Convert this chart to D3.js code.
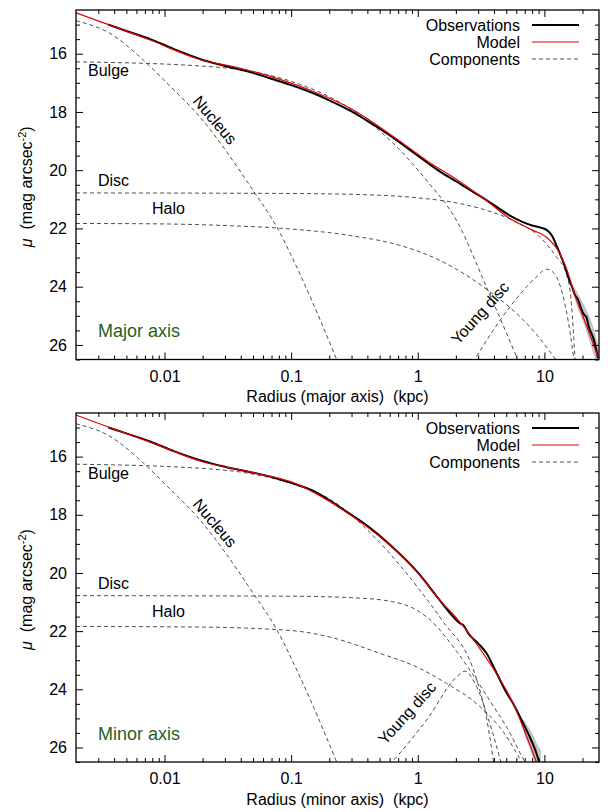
<!DOCTYPE html>
<html>
<head>
<meta charset="utf-8">
<script src="https://cdn.jsdelivr.net/npm/d3@7"></script>
<style>
  body { margin: 0; background: #fff; }
  svg text { font-family: "Liberation Sans", Arial, Helvetica, sans-serif; fill: #000; white-space: pre; }
</style>
</head>
<body>
<svg id="chart" width="608" height="812"></svg>
<script>
// ---------- axis ticks ----------
const xTickValues = [0.01, 0.1, 1, 10];
const xTickLabels = ["0.01", "0.1", "1", "10"];
const yTickValues = [16, 18, 20, 22, 24, 26];
const yTickLabels = ["16", "18", "20", "22", "24", "26"];

// ---------- major axis profile: [radius kpc, mu] ----------
const majorObs = [
  [0.0036, 15.0], [0.005, 15.22], [0.0077, 15.5], [0.012, 15.85], [0.019, 16.18],
  [0.03, 16.42], [0.05, 16.66], [0.077, 16.92], [0.1, 17.08], [0.15, 17.36],
  [0.2, 17.6], [0.3, 17.98], [0.44, 18.42], [0.6, 18.8], [0.72, 19.05],
  [1.0, 19.5], [1.5, 20.05], [2.0, 20.38], [3.0, 20.85], [4.0, 21.2],
  [5.3, 21.55], [6.5, 21.75], [8.0, 21.9], [9.5, 21.98], [10.4, 22.05],
  [11.5, 22.25], [12.5, 22.6], [13.5, 22.95], [14.5, 23.3], [15.5, 23.7],
  [16.5, 24.0], [17.5, 24.3], [18.5, 24.45], [19.5, 24.75], [20.5, 24.95],
  [21.5, 25.05], [22.5, 25.4], [23.5, 25.6], [24.5, 25.8], [25.5, 26.1], [26.5, 26.45]
];
const majorBand = [
  [16.5, 23.95, 24.05], [18, 24.15, 24.65], [19.5, 24.45, 25.05], [21, 24.7, 25.4],
  [22.5, 25.0, 25.8], [24, 25.3, 26.2], [25.5, 25.7, 26.6], [27, 26.1, 27.0]
];
const majorModel = [
  [0.002, 14.6], [0.0037, 15.02], [0.0077, 15.53], [0.019, 16.2], [0.04, 16.5],
  [0.077, 16.85], [0.15, 17.3], [0.3, 17.9], [0.44, 18.35], [0.72, 19.0],
  [1.2, 19.7], [2.0, 20.3], [3.5, 21.05], [5.3, 21.65], [8.0, 22.05],
  [10.4, 22.3], [13.2, 22.85], [15.1, 23.43], [17.6, 24.35], [19.8, 24.92],
  [23.0, 25.67], [26.5, 26.41]
];
const majorNucleus = [
  [0.002, 14.87], [0.0037, 15.3], [0.0068, 16.22], [0.0104, 17.0], [0.019, 18.17],
  [0.05, 20.69], [0.077, 21.95], [0.12, 23.66], [0.234, 26.6]
];
const majorBulge = [
  [0.002, 16.28], [0.019, 16.42], [0.05, 16.62], [0.1, 16.95], [0.3, 17.92],
  [0.72, 19.3], [1.2, 20.4], [2.02, 21.72], [3.48, 24.0], [6.3, 26.6]
];
const majorDisc = [
  [0.002, 20.78], [0.1, 20.8], [0.5, 20.86], [1.0, 20.95], [2.0, 21.12],
  [3.5, 21.38], [5.63, 21.72], [9.18, 22.29], [12.44, 22.98], [14.93, 23.55],
  [16.35, 24.58], [17.5, 26.6]
];
const majorHalo = [
  [0.002, 21.83], [0.0077, 21.84], [0.03, 21.9], [0.1, 22.02], [0.3, 22.25],
  [0.72, 22.58], [1.5, 23.1], [3.28, 24.0], [8.13, 25.5], [12.8, 26.6]
];
const majorYoung = [
  [2.72, 26.6], [5.33, 24.7], [8.5, 23.7], [10.4, 23.4], [12.0, 23.55],
  [14.0, 24.3], [16.0, 25.6], [17.2, 26.6]
];

// ---------- minor axis profile: [radius kpc, mu] ----------
const minorObs = [
  [0.0036, 15.0], [0.005, 15.2], [0.0077, 15.48], [0.012, 15.82], [0.019, 16.12],
  [0.03, 16.35], [0.05, 16.55], [0.077, 16.75], [0.1, 16.9], [0.15, 17.18],
  [0.25, 17.78], [0.4, 18.38], [0.6, 19.02], [1.0, 19.98], [1.5, 20.95],
  [1.9, 21.5], [2.15, 21.73], [2.3, 21.8], [2.5, 22.07], [3.0, 22.42],
  [3.49, 22.76], [4.2, 23.45], [5.0, 24.1], [5.65, 24.48], [6.78, 25.16],
  [7.6, 25.6], [8.65, 26.2], [9.1, 26.5]
];
const minorBand = [
  [6.4, 24.95, 25.05], [7.0, 25.1, 25.6], [7.6, 25.35, 26.0], [8.2, 25.6, 26.4],
  [8.8, 25.9, 26.8], [9.4, 26.1, 27.0]
];
const minorModel = [
  [0.002, 14.57], [0.0037, 15.0], [0.0077, 15.5], [0.019, 16.15], [0.05, 16.55],
  [0.1, 16.87], [0.25, 17.8], [0.6, 19.04], [1.0, 20.0], [1.5, 20.95],
  [2.08, 21.61], [3.28, 22.76], [5.65, 24.48], [8.65, 26.5]
];
const minorNucleus = [
  [0.002, 14.87], [0.0037, 15.3], [0.0068, 16.22], [0.0104, 17.0], [0.019, 18.17],
  [0.05, 20.69], [0.077, 21.95], [0.12, 23.66], [0.234, 26.6]
];
const minorBulge = [
  [0.002, 16.26], [0.019, 16.4], [0.05, 16.6], [0.1, 16.92], [0.2, 17.45],
  [0.5, 18.95], [1.0, 20.5], [1.545, 21.61], [2.92, 23.67], [3.5, 25.0], [4.0, 26.6]
];
const minorDisc = [
  [0.002, 20.78], [0.1, 20.8], [0.3, 20.85], [0.6, 20.97], [1.0, 21.3],
  [1.249, 21.61], [2.03, 22.7], [3.72, 24.4], [5.5, 25.6], [6.62, 26.3], [7.5, 26.7]
];
const minorHalo = [
  [0.002, 21.84], [0.019, 21.86], [0.1, 21.98], [0.2, 22.2], [0.5, 22.76],
  [1.0, 23.25], [1.69, 23.8], [3.09, 24.59], [4.8, 25.5], [6.81, 26.6]
];
const minorYoung = [
  [0.6, 26.6], [1.2, 25.0], [2.0, 23.6], [2.36, 23.38], [2.8, 23.75],
  [3.6, 25.0], [4.6, 26.6]
];

// ---------- layout ----------
const svg = d3.select("#chart");
const left = 76, right = 599;

const panels = [
  {
    id: "major", top: 10, bottom: 359.5, axisTitle: "Radius (major axis)\u00a0 (kpc)", tag: "Major axis",
    obs: majorObs, band: majorBand, model: majorModel,
    comps: [majorNucleus, majorBulge, majorDisc, majorHalo, majorYoung],
    young: { x: 480, y: 313 }
  },
  {
    id: "minor", top: 413, bottom: 762, axisTitle: "Radius (minor axis)\u00a0 (kpc)", tag: "Minor axis",
    obs: minorObs, band: minorBand, model: minorModel,
    comps: [minorNucleus, minorBulge, minorDisc, minorHalo, minorYoung],
    young: { x: 407, y: 713 }
  }
];

const x = d3.scaleLog().domain([0.002, 27]).range([left, right]);

// minor tick values for the log axis (2..9 per decade) inside the domain
const xMinor = [];
[0.001, 0.01, 0.1, 1, 10].forEach(d => {
  for (let k = 2; k <= 9; k++) {
    const v = k * d;
    if (v > 0.002 && v < 27) xMinor.push(v);
  }
});
const yMinor = d3.range(15, 26.51, 0.5).filter(v => v % 2 !== 0);

panels.forEach(p => {
  const y = d3.scaleLinear().domain([14.5, 26.5]).range([p.top, p.bottom]);
  const g = svg.append("g").attr("class", "panel-" + p.id);

  const clipId = "clip-" + p.id;
  svg.append("clipPath").attr("id", clipId)
    .append("rect").attr("x", left).attr("y", p.top)
    .attr("width", right - left).attr("height", p.bottom - p.top);

  const plot = g.append("g").attr("clip-path", `url(#${clipId})`);
  const curve = d3.line().x(d => x(d[0])).y(d => y(d[1])).curve(d3.curveMonotoneX);

  // uncertainty band around the outer observations
  plot.append("path")
    .datum(p.band)
    .attr("fill", "#c4c4c4")
    .attr("d", d3.area().x(d => x(d[0])).y0(d => y(d[1])).y1(d => y(d[2])).curve(d3.curveMonotoneX));

  // model components
  p.comps.forEach(c => {
    plot.append("path")
      .datum(c)
      .attr("fill", "none")
      .attr("stroke", "#3a3a3a")
      .attr("stroke-width", 0.9)
      .attr("stroke-dasharray", "4,3")
      .attr("d", curve);
  });

  // observations
  plot.append("path")
    .datum(p.obs)
    .attr("fill", "none")
    .attr("stroke", "#000")
    .attr("stroke-width", 2)
    .attr("stroke-linejoin", "round")
    .attr("d", curve);

  // total model
  plot.append("path")
    .datum(p.model)
    .attr("fill", "none")
    .attr("stroke", "#e00000")
    .attr("stroke-width", 1.2)
    .attr("d", curve);

  // ---------- axes (ticks pointing inwards, mirrored) ----------
  const axG = g.append("g").attr("class", "axes");
  const major = 7, minorLen = 4;

  const bottomAx = d3.axisBottom(x).tickValues(xTickValues)
    .tickFormat((d, i) => xTickLabels[i]).tickSizeInner(-major).tickSizeOuter(0).tickPadding(11);
  const bAx = axG.append("g").attr("transform", `translate(0,${p.bottom})`).call(bottomAx);
  bAx.selectAll("text").attr("font-size", 16).attr("dy", "0.71em");
  axG.append("g").attr("transform", `translate(0,${p.bottom})`)
    .call(d3.axisBottom(x).tickValues(xMinor).tickFormat("").tickSizeInner(-minorLen).tickSizeOuter(0));
  axG.append("g").attr("transform", `translate(0,${p.top})`)
    .call(d3.axisTop(x).tickValues(xTickValues).tickFormat("").tickSizeInner(-major).tickSizeOuter(0));
  axG.append("g").attr("transform", `translate(0,${p.top})`)
    .call(d3.axisTop(x).tickValues(xMinor).tickFormat("").tickSizeInner(-minorLen).tickSizeOuter(0));

  const leftAx = d3.axisLeft(y).tickValues(yTickValues)
    .tickFormat((d, i) => yTickLabels[i]).tickSizeInner(-major).tickSizeOuter(0).tickPadding(9);
  const lAx = axG.append("g").attr("transform", `translate(${left},0)`).call(leftAx);
  lAx.selectAll("text").attr("font-size", 16);
  axG.append("g").attr("transform", `translate(${left},0)`)
    .call(d3.axisLeft(y).tickValues(yMinor).tickFormat("").tickSizeInner(-minorLen).tickSizeOuter(0));
  axG.append("g").attr("transform", `translate(${right},0)`)
    .call(d3.axisRight(y).tickValues(yTickValues).tickFormat("").tickSizeInner(-major).tickSizeOuter(0));
  axG.append("g").attr("transform", `translate(${right},0)`)
    .call(d3.axisRight(y).tickValues(yMinor).tickFormat("").tickSizeInner(-minorLen).tickSizeOuter(0));

  axG.selectAll(".domain").remove();
  axG.selectAll(".tick line").attr("stroke", "#000").attr("stroke-width", 1);
  axG.selectAll(".tick text").attr("font-family", "Liberation Sans, Arial, sans-serif").attr("fill", "#000");

  // frame
  g.append("rect")
    .attr("x", left).attr("y", p.top)
    .attr("width", right - left).attr("height", p.bottom - p.top)
    .attr("fill", "none").attr("stroke", "#000").attr("stroke-width", 1.3);

  // axis titles
  g.append("text")
    .attr("x", (left + right) / 2).attr("y", p.bottom + 42.5)
    .attr("text-anchor", "middle").attr("font-size", 16)
    .text(p.axisTitle);

  const yt = g.append("text")
    .attr("transform", `translate(32,${(p.top + p.bottom) / 2 + 2}) rotate(-90)`)
    .attr("text-anchor", "middle").attr("font-size", 16);
  yt.append("tspan").attr("font-style", "italic").text("μ");
  yt.append("tspan").text("\u00a0 (mag arcsec");
  yt.append("tspan").attr("dy", -6).attr("font-size", 11).text("-2");
  yt.append("tspan").attr("dy", 6).text(")");

  // ---------- legend ----------
  const lg = g.append("g").attr("transform", `translate(0,${p.top})`);
  const items = [
    { label: "Observations", stroke: "#000", width: 2, dash: null },
    { label: "Model", stroke: "#e00000", width: 1.2, dash: null },
    { label: "Components", stroke: "#3a3a3a", width: 0.9, dash: "4,3" }
  ];
  items.forEach((it, i) => {
    const ly = 15 + i * 17;
    lg.append("text").attr("x", 520).attr("y", ly + 5.5)
      .attr("text-anchor", "end").attr("font-size", 16).text(it.label);
    lg.append("line").attr("x1", 532).attr("x2", 579).attr("y1", ly).attr("y2", ly)
      .attr("stroke", it.stroke).attr("stroke-width", it.width)
      .attr("stroke-dasharray", it.dash);
  });

  // ---------- component labels ----------
  const ann = g.append("g").attr("transform", `translate(0,${p.top})`).attr("font-size", 16);
  ann.append("text").attr("x", 88).attr("y", 65.5).text("Bulge");
  ann.append("text").attr("x", 98).attr("y", 176).text("Disc");
  ann.append("text").attr("x", 152).attr("y", 204).text("Halo");
  ann.append("text")
    .attr("transform", "translate(215,110) rotate(50)")
    .attr("text-anchor", "middle").attr("dy", "0.35em").text("Nucleus");
  g.append("text")
    .attr("transform", `translate(${p.young.x},${p.young.y}) rotate(-48)`)
    .attr("text-anchor", "middle").attr("dy", "0.35em").attr("font-size", 16).text("Young disc");
  ann.append("text").attr("x", 98).attr("y", 326.5)
    .attr("font-size", 18).style("fill", "#1f5f1f").text(p.tag);
});
</script>
</body>
</html>
